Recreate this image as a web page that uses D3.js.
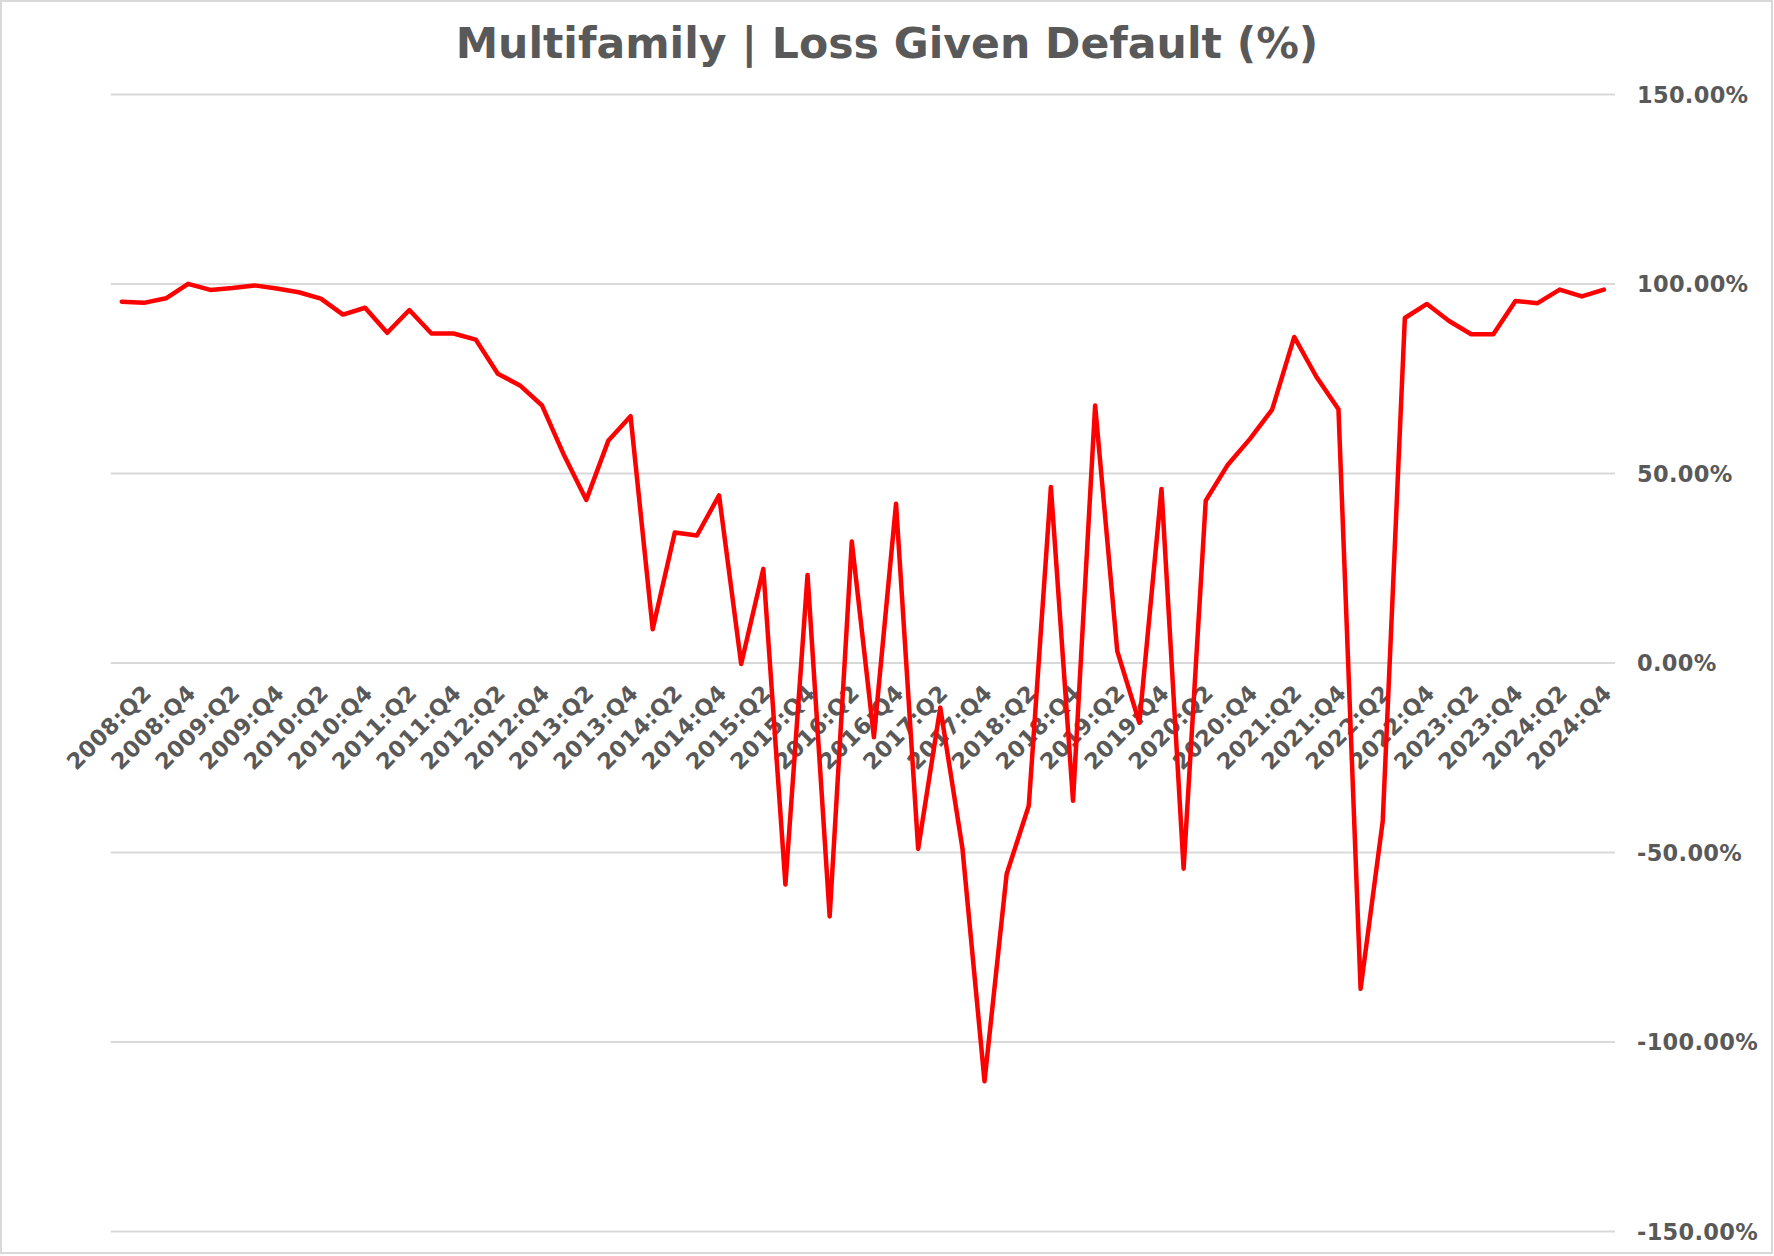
<!DOCTYPE html>
<html>
<head>
<meta charset="utf-8">
<script src="https://cdn.jsdelivr.net/npm/d3@7/dist/d3.min.js"></script>
<style>
  html, body { margin: 0; padding: 0; background: #ffffff; }
  svg { display: block; }
</style>
</head>
<body>
<svg id="chart" width="1774" height="1256"></svg>
<script>
const title = "Multifamily | Loss Given Default (%)";

const categories = [
  "2008:Q1","2008:Q2","2008:Q3","2008:Q4",
  "2009:Q1","2009:Q2","2009:Q3","2009:Q4",
  "2010:Q1","2010:Q2","2010:Q3","2010:Q4",
  "2011:Q1","2011:Q2","2011:Q3","2011:Q4",
  "2012:Q1","2012:Q2","2012:Q3","2012:Q4",
  "2013:Q1","2013:Q2","2013:Q3","2013:Q4",
  "2014:Q1","2014:Q2","2014:Q3","2014:Q4",
  "2015:Q1","2015:Q2","2015:Q3","2015:Q4",
  "2016:Q1","2016:Q2","2016:Q3","2016:Q4",
  "2017:Q1","2017:Q2","2017:Q3","2017:Q4",
  "2018:Q1","2018:Q2","2018:Q3","2018:Q4",
  "2019:Q1","2019:Q2","2019:Q3","2019:Q4",
  "2020:Q1","2020:Q2","2020:Q3","2020:Q4",
  "2021:Q1","2021:Q2","2021:Q3","2021:Q4",
  "2022:Q1","2022:Q2","2022:Q3","2022:Q4",
  "2023:Q1","2023:Q2","2023:Q3","2023:Q4",
  "2024:Q1","2024:Q2","2024:Q3","2024:Q4"
];

// Loss given default, percent
const lgdValues = [
  95.2, 94.9, 96.1, 99.9,
  98.3, 98.8, 99.5, 98.7,
  97.7, 96.0, 91.8, 93.6,
  87.0, 93.0, 86.8, 86.8,
  85.2, 76.2, 73.1, 67.8,
  54.6, 42.9, 58.6, 65.0,
  8.8, 34.3, 33.5, 44.1,
  -0.4, 24.7, -58.6, 23.1,
  -67.0, 31.9, -19.7, 41.9,
  -49.2, -11.9, -49.0, -110.5,
  -55.8, -37.8, 46.3, -36.5,
  67.8, 3.0, -15.9, 45.8,
  -54.4, 42.7, 52.2, 59.0,
  66.7, 85.9, 75.4, 66.8,
  -86.1, -41.9, 90.9, 94.6,
  90.1, 86.6, 86.6, 95.4,
  94.8, 98.4, 96.6, 98.4
];

const xTickLabels = [
  "2008:Q2","2008:Q4","2009:Q2","2009:Q4","2010:Q2","2010:Q4",
  "2011:Q2","2011:Q4","2012:Q2","2012:Q4","2013:Q2","2013:Q4",
  "2014:Q2","2014:Q4","2015:Q2","2015:Q4","2016:Q2","2016:Q4",
  "2017:Q2","2017:Q4","2018:Q2","2018:Q4","2019:Q2","2019:Q4",
  "2020:Q2","2020:Q4","2021:Q2","2021:Q4","2022:Q2","2022:Q4",
  "2023:Q2","2023:Q4","2024:Q2","2024:Q4"
];

const yTickValues = [150, 100, 50, 0, -50, -100, -150];

const W = 1774, H = 1256;
const plot = { left: 110.7, right: 1615, top: 94, bottom: 1231 };
const textColor = "#595959";
const fontFamily = "'DejaVu Sans', Verdana, sans-serif";

const svg = d3.select("#chart");

svg.append("rect")
  .attr("x", 0).attr("y", 0).attr("width", W).attr("height", H)
  .attr("fill", "#ffffff");

svg.append("rect")
  .attr("x", 1).attr("y", 1).attr("width", W - 3).attr("height", H - 4)
  .attr("fill", "none").attr("stroke", "#d9d9d9").attr("stroke-width", 2);

const x = d3.scaleBand()
  .domain(categories)
  .range([plot.left, plot.right])
  .paddingInner(0).paddingOuter(0);

const y = d3.scaleLinear()
  .domain([-150, 150])
  .range([plot.bottom, plot.top]);

const fmt = d => d3.format(".2f")(d).replace("−", "-") + "%";

// Gridlines + right-side labels
const yAxis = d3.axisRight(y)
  .tickValues(yTickValues)
  .tickSize(-(plot.right - plot.left))
  .tickPadding(0)
  .tickFormat(fmt);

const gy = svg.append("g")
  .attr("transform", `translate(${plot.right},0)`)
  .call(yAxis);
gy.select(".domain").remove();
gy.selectAll(".tick line")
  .attr("stroke", "#d9d9d9")
  .attr("stroke-width", 2);
gy.selectAll(".tick text")
  .attr("x", 22)
  .attr("dy", "0.36em")
  .attr("text-anchor", "start")
  .attr("fill", textColor)
  .style("font-family", fontFamily)
  .style("font-weight", "bold")
  .style("font-size", "22.5px")
  .style("letter-spacing", "0.3px");

// Category axis at zero
const xAxis = d3.axisBottom(x)
  .tickValues(xTickLabels)
  .tickSize(0)
  .tickPadding(0);

const gx = svg.append("g")
  .attr("transform", `translate(0,${y(0)})`)
  .call(xAxis);
gx.select(".domain").remove();
gx.selectAll(".tick text")
  .attr("x", 0).attr("y", 0).attr("dy", 0)
  .attr("text-anchor", "end")
  .attr("transform", "translate(9,32) rotate(-45)")
  .attr("fill", textColor)
  .style("font-family", fontFamily)
  .style("font-weight", "bold")
  .style("font-size", "22.5px")
  .style("letter-spacing", "0.3px");

// Line
const line = d3.line()
  .x((d, i) => x(categories[i]) + x.bandwidth() / 2)
  .y(d => y(d));

svg.append("path")
  .datum(lgdValues)
  .attr("fill", "none")
  .attr("stroke", "#ff0000")
  .attr("stroke-width", 4.5)
  .attr("stroke-linejoin", "round")
  .attr("stroke-linecap", "round")
  .attr("d", line);

// Title
svg.append("text")
  .attr("x", 887)
  .attr("y", 58)
  .attr("text-anchor", "middle")
  .attr("fill", textColor)
  .style("font-family", fontFamily)
  .style("font-weight", "bold")
  .style("font-size", "42.6px")
  .text(title);
</script>
</body>
</html>
